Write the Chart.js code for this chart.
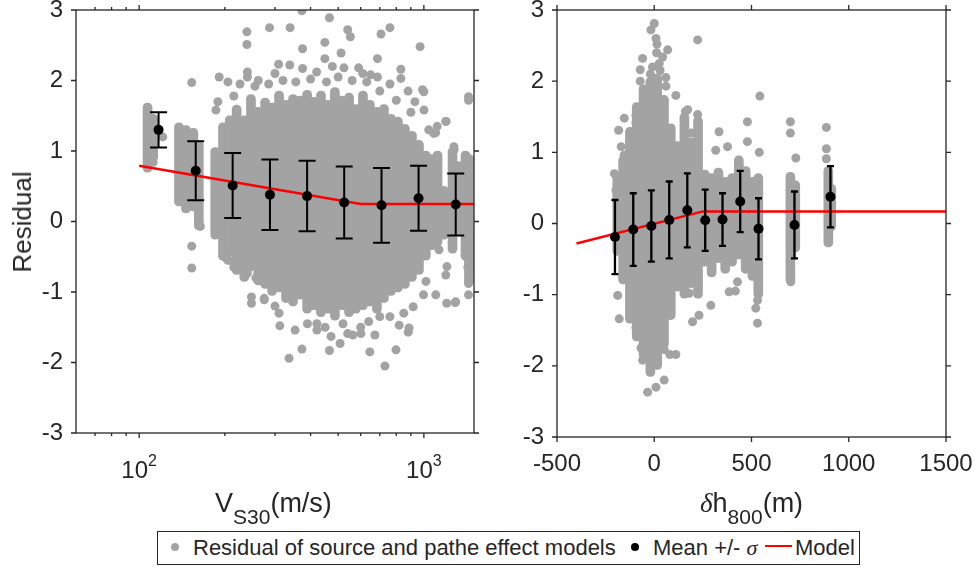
<!DOCTYPE html>
<html>
<head>
<meta charset="utf-8">
<script src="https://cdn.jsdelivr.net/npm/chart.js@4.4.1/dist/chart.umd.min.js"></script>
<style>
  body { margin: 0; width: 975px; height: 567px; position: relative; overflow: hidden; background: #fff;
         font-family: Arial, "Liberation Sans", sans-serif; color: #262626; }
  canvas { position: absolute; top: 0; }
  #left { left: 0; }
  #right { left: 487px; }
  .title { position: absolute; white-space: nowrap; font-size: 27px; line-height: 27px; }
  .title .sub { font-size: 21px; position: relative; top: 12px; }
  .greek { font-family: "Liberation Serif", "Times New Roman", serif; font-style: italic; }
  #ylab { left: 21.7px; top: 221.7px; font-size: 26px; line-height: 26px; transform: translate(-50%, -50%) rotate(-90deg); }
  #legend { position: absolute; left: 157px; top: 531px; width: 701px; height: 32px; border: 1px solid #262626; background: #fff; }
  .lt { position: absolute; top: 537px; font-size: 22px; line-height: 22px; white-space: nowrap; }
  .dot { position: absolute; width: 8px; height: 8px; border-radius: 50%; top: 543px; }
</style>
</head>
<body>
<canvas id="left" width="487" height="567"></canvas>
<canvas id="right" width="488" height="567"></canvas>
<div class="title" id="ylab">Residual</div>
<div class="title" style="left:215px;top:490px">V<span class="sub">S30</span>(m/s)</div>
<div class="title" style="left:700px;top:490px"><span class="greek">δ</span>h<span class="sub">800</span>(m)</div>
<div id="legend"></div>
<span class="dot" style="left:171px;background:#a3a3a3"></span>
<span class="lt" style="left:193px">Residual of source and pathe effect models</span>
<span class="dot" style="left:631px;background:#000"></span>
<span class="lt" style="left:653px">Mean +/- <span class="greek">σ</span></span>
<span style="position:absolute;left:765px;top:545px;width:27px;height:2px;background:#ff0000"></span>
<span class="lt" style="left:795px">Model</span>
<script>
const GRAY = '#a3a3a3';
const INK = '#262626';
const FONT = 'Arial, "Liberation Sans", sans-serif';

// left panel: residual vs VS30 (m/s)
// stations where the residuals pile up into a column: VS30 and [low, high] residual
const vsStations = [107, 112, 138, 146, 155, 162, 185, 190, 197, 208, 220, 234, 247, 262, 277, 293, 310,
  328, 347, 367, 389, 411, 435, 460, 487, 516, 546, 577, 611, 646, 684, 724, 766, 811, 858, 908, 961,
  1016, 1067, 1117, 1175, 1261, 1320, 1400, 1440];
const vsRanges = [[0.70, 1.68], [0.85, 1.52], [0.22, 1.40], [0.12, 1.36], [0.15, 1.32], [-0.12, 1.15],
  [-0.25, 1.05], [-0.15, 0.95], [-0.55, 1.40], [-0.50, 1.50], [-0.75, 1.65], [-0.85, 1.50], [-0.70, 1.80],
  [-0.90, 1.62], [-0.95, 1.75], [-1.05, 1.68], [-1.00, 1.85], [-1.15, 1.72], [-1.20, 1.80], [-1.10, 1.78],
  [-1.30, 1.86], [-1.25, 1.76], [-1.35, 1.85], [-1.30, 1.72], [-1.40, 1.90], [-1.25, 1.78], [-1.35, 1.82],
  [-1.30, 1.66], [-1.25, 1.85], [-1.20, 1.72], [-1.30, 1.62], [-1.15, 1.66], [-1.05, 1.52], [-1.00, 1.48],
  [-0.95, 1.38], [-0.85, 1.28], [-0.75, 1.15], [-0.55, 1.00], [-0.40, 0.95], [-0.35, 1.00], [-0.25, 0.50],
  [-0.45, 1.05], [-0.20, 0.85], [-0.55, 1.00], [-0.90, 0.95]];
// single residuals outside the columns
const vsOutliers = [[373, 2.99], [466, 2.89], [239, 2.69], [239, 2.51], [287, 2.75], [339, 2.75], [540, 2.72],
  [552, 2.62], [707, 2.66], [760, 2.75], [449, 2.54], [375, 2.45], [512, 2.39], [970, 2.48], [449, 2.31],
  [687, 2.31], [309, 2.23], [338, 2.22], [240, 2.12], [240, 2.05], [191, 2.05], [205, 1.98], [375, 2.17],
  [590, 2.18], [830, 2.16], [830, 2.03], [989, 1.87], [1001, 1.58], [1114, 1.35], [1197, 1.42], [1083, 1.25],
  [1435, 1.77], [1435, 1.72], [153, 1.97], [1275, 1.06], [477, 2.20], [524, 2.18], [687, 2.05], [1000, 1.84],
  [1194, 1.42], [1100, 1.26], [1277, 1.02], [186, 1.58], [189, 1.70], [226, 1.95], [262, 2.00], [300, 2.10],
  [420, 2.12], [610, 2.10], [650, 2.08], [760, 1.95], [880, 1.85], [930, 1.70], [121, 1.20], [112, 0.84],
  [215, 1.78], [255, 1.92], [285, 1.95], [320, 2.00], [355, 1.98], [400, 2.02], [455, 1.98], [500, 2.05],
  [560, 2.00], [630, 1.98], [700, 1.85], [800, 1.72], [900, 1.55], [1040, 1.30],
  [205, -0.55], [215, -0.65], [153, -0.35], [153, -0.66], [164, -0.07], [1205, -0.64], [1130, -0.40],
  [1427, -0.50], [1427, -0.65], [248, -1.07], [248, -1.16], [275, -1.11], [310, -1.30], [312, -1.48],
  [336, -1.94], [353, -1.54], [373, -1.81], [421, -1.54], [421, -1.45], [466, -1.83], [472, -1.63],
  [508, -1.73], [540, -1.59], [601, -1.59], [646, -1.85], [673, -1.61], [730, -2.05], [798, -1.82],
  [819, -1.47], [881, -1.57], [917, -1.21], [997, -1.04], [1101, -1.04], [1203, -1.16], [1288, -1.15],
  [1435, -1.04], [1435, -0.88], [700, -1.35], [640, -1.42], [435, -1.16], [563, -1.61], [887, -1.51],
  [1294, -1.14], [1017, -0.85], [1194, -0.76], [1435, -0.29], [1435, -0.48], [240, -0.73], [257, -0.80],
  [275, -1.09], [202, -0.52], [213, -0.57], [300, -1.20], [390, -1.45], [450, -1.50], [520, -1.45],
  [600, -1.50], [760, -1.35], [850, -1.30]];
const vsMeanX = [117, 158, 213, 288, 389, 525, 710, 958, 1294];
const vsMean = [1.30, 0.72, 0.51, 0.38, 0.36, 0.27, 0.23, 0.33, 0.24];
const vsSigma = [0.25, 0.42, 0.46, 0.50, 0.50, 0.51, 0.53, 0.46, 0.44];
const vsModel = [[100, 0.79], [600, 0.25], [1500, 0.25]];
const vsTicks = [70, 80, 90, 100, 200, 300, 400, 500, 600, 700, 800, 900, 1000];

// right panel: residual vs delta h800 (m)
const dhStations = [-190, -160, -125, -90, -55, -20, 15, 50, 85, 120, 155, 190, 225, 260, 295, 330, 365,
  400, 435, 470, 505, 535, 700, 725, 895, 910];
const dhRanges = [[-0.45, 0.70], [-0.85, 0.95], [-1.40, 1.35], [-1.65, 1.70], [-1.90, 1.95], [-2.15, 2.05],
  [-2.05, 2.10], [-1.75, 1.80], [-1.35, 1.40], [-0.95, 1.15], [-1.05, 1.55], [-0.90, 1.20], [-1.05, 1.50],
  [-0.60, 0.75], [-0.75, 0.70], [-0.55, 0.78], [-0.70, 0.65], [-0.60, 0.70], [-0.50, 0.95], [-0.70, 0.80],
  [-0.80, 0.65], [-1.05, 0.70], [-0.85, 0.72], [-0.40, 0.60], [-0.33, 0.80], [-0.10, 0.55]];
const dhOutliers = [[0, 2.81], [-17, 2.72], [9, 2.60], [14, 2.52], [12, 2.40], [69, 2.44], [43, 2.34],
  [26, 2.25], [-9, 2.20], [-60, 2.32], [-72, 2.16], [-72, 2.00], [60, 2.05], [60, 1.93], [111, 1.80],
  [-94, 1.52], [-94, 1.42], [-154, 1.48], [-183, 1.31], [-170, 1.08], [-155, 0.96], [-205, 0.70],
  [-197, 0.47], [-188, -1.01], [-180, -1.34], [-110, -1.27], [-94, -1.46], [-68, -1.75], [-60, -1.92],
  [-10, -2.00], [-34, -2.37], [9, -2.30], [51, -2.20], [51, -1.77], [80, -1.84], [111, -1.84], [180, -0.98],
  [197, -1.38], [230, -1.29], [291, -1.15], [385, -0.96], [428, -0.82], [531, -1.40], [522, -1.19],
  [531, -1.08], [702, -0.82], [160, 1.57], [172, 1.60], [223, 1.53], [190, 1.27], [223, 2.58], [333, 1.29],
  [316, 1.03], [479, 1.43], [479, 1.15], [543, 1.79], [700, 1.43], [700, 1.27], [728, 0.92], [885, 1.35],
  [885, 1.05], [885, 0.91], [377, 1.08], [540, 1.00], [417, -0.95], [-20, 2.10], [30, 2.15]];
const dhMeanX = [-202, -108, -15, 77, 170, 262, 351, 442, 536, 721, 906];
const dhMean = [-0.19, -0.085, -0.035, 0.05, 0.185, 0.045, 0.055, 0.31, -0.075, -0.02, 0.375];
const dhSigma = [0.52, 0.51, 0.50, 0.54, 0.52, 0.43, 0.37, 0.43, 0.43, 0.47, 0.43];
const dhModel = [[-400, -0.28], [250, 0.17], [1500, 0.17]];
const dhTicks = [-500, 0, 500, 1000, 1500];

const residualTicks = [-3, -2, -1, 0, 1, 2, 3];

// box, outward ticks on all four sides, error bars and the 10^n labels
const frame = {
  id: 'frame',
  beforeDatasetDraw(chart, args) {
    const ds = chart.data.datasets[args.index];
    if (!ds.sigma) return;
    const { ctx, scales: { x, y } } = chart;
    ctx.save();
    ctx.strokeStyle = '#000';
    ctx.lineWidth = ds.errWidth;
    ds.data.forEach((p, i) => {
      const px = x.getPixelForValue(p.x);
      const top = y.getPixelForValue(p.y + ds.sigma[i]);
      const bot = y.getPixelForValue(p.y - ds.sigma[i]);
      const c = ds.capHalf;
      ctx.beginPath();
      ctx.moveTo(px, top); ctx.lineTo(px, bot);
      ctx.moveTo(px - c, top); ctx.lineTo(px + c, top);
      ctx.moveTo(px - c, bot); ctx.lineTo(px + c, bot);
      ctx.stroke();
    });
    ctx.restore();
  },
  afterDraw(chart) {
    const { ctx, chartArea: a, scales: { x, y } } = chart;
    ctx.save();
    ctx.strokeStyle = INK;
    ctx.lineWidth = 1.3;
    ctx.strokeRect(a.left, a.top, a.right - a.left, a.bottom - a.top);
    ctx.beginPath();
    x.ticks.forEach(t => {
      const px = x.getPixelForValue(t.value);
      const len = t.major ? 5 : 3;
      ctx.moveTo(px, a.top); ctx.lineTo(px, a.top - len);
      ctx.moveTo(px, a.bottom); ctx.lineTo(px, a.bottom + len);
    });
    y.ticks.forEach(t => {
      const py = y.getPixelForValue(t.value);
      ctx.moveTo(a.left, py); ctx.lineTo(a.left - 5, py);
      ctx.moveTo(a.right, py); ctx.lineTo(a.right + 5, py);
    });
    ctx.stroke();
    if (x.type === 'logarithmic') {
      ctx.fillStyle = INK;
      ctx.textAlign = 'left';
      ctx.textBaseline = 'alphabetic';
      x.ticks.filter(t => t.major).forEach(t => {
        const px = x.getPixelForValue(t.value);
        const exp = String(Math.round(Math.log10(t.value)));
        ctx.font = '24px ' + FONT;
        const w1 = ctx.measureText('10').width;
        ctx.font = '16px ' + FONT;
        const w2 = ctx.measureText(exp).width;
        const x0 = px - (w1 + w2) / 2;
        ctx.font = '24px ' + FONT;
        ctx.fillText('10', x0, a.bottom + 45);
        ctx.font = '16px ' + FONT;
        ctx.fillText(exp, x0 + w1, a.bottom + 33);
      });
    }
    ctx.restore();
  }
};

const pts = list => list.map(([x, y]) => ({ x, y }));

function panel(canvas, o) {
  return new Chart(canvas, {
    type: 'scatter',
    data: {
      datasets: [
        { type: 'scatter', label: 'Mean +/- σ', data: o.meanX.map((x, i) => ({ x, y: o.mean[i] })),
          sigma: o.sigma, capHalf: o.capHalf, errWidth: o.errWidth,
          pointRadius: 5, backgroundColor: '#000', borderWidth: 0, order: 0 },
        { type: 'line', label: 'Model', data: pts(o.model), borderColor: '#ff0000', borderWidth: 2.5,
          pointRadius: 0, fill: false, tension: 0, order: 1 },
        { type: 'scatter', label: 'Residual', data: pts(o.outliers), pointRadius: 4.5,
          backgroundColor: GRAY, borderWidth: 0, order: 2 },
        { type: 'bar', label: 'Residual columns', data: o.stations.map((x, i) => ({ x, y: o.ranges[i] })),
          backgroundColor: GRAY, barThickness: 9, borderRadius: 4.5, borderSkipped: false,
          grouped: false, order: 3 }
      ]
    },
    options: {
      responsive: false,
      animation: false,
      events: [],
      layout: { padding: { top: 10, right: o.padRight, left: 0, bottom: 0 } },
      plugins: { legend: { display: false }, tooltip: { enabled: false } },
      scales: {
        x: {
          type: o.xType, min: o.xMin, max: o.xMax, offset: false,
          grid: { display: false, drawTicks: false }, border: { display: false },
          afterBuildTicks: s => { s.ticks = o.xTicks.map(v => ({ value: v, major: o.isMajor(v) })); },
          afterFit: s => { s.height = o.xHeight; s.paddingLeft = 0; s.paddingRight = 0; },
          ticks: { display: o.xLabels, padding: 13, autoSkip: false, maxRotation: 0,
                   font: { size: 24, family: FONT }, color: INK, callback: v => String(v) }
        },
        y: {
          min: -3, max: 3,
          grid: { display: false, drawTicks: false }, border: { display: false },
          afterBuildTicks: s => { s.ticks = residualTicks.map(v => ({ value: v, major: true })); },
          afterFit: s => { s.width = o.yWidth; s.paddingTop = 0; s.paddingBottom = 0; },
          ticks: { padding: 13, font: { size: 24, family: FONT }, color: INK, callback: v => String(v) }
        }
      }
    },
    plugins: [frame]
  });
}

panel(document.getElementById('left'), {
  stations: vsStations, ranges: vsRanges, outliers: vsOutliers,
  meanX: vsMeanX, mean: vsMean, sigma: vsSigma, model: vsModel,
  capHalf: 8.5, errWidth: 2,
  xType: 'logarithmic', xMin: 60, xMax: 1500, xTicks: vsTicks,
  isMajor: v => v === 100 || v === 1000, xLabels: false,
  xHeight: 134, yWidth: 76, padRight: 13
});

panel(document.getElementById('right'), {
  stations: dhStations, ranges: dhRanges, outliers: dhOutliers,
  meanX: dhMeanX, mean: dhMean, sigma: dhSigma, model: dhModel,
  capHalf: 3.5, errWidth: 2.3,
  xType: 'linear', xMin: -500, xMax: 1500, xTicks: dhTicks,
  isMajor: () => true, xLabels: true,
  xHeight: 130, yWidth: 70, padRight: 29
});
</script>
</body>
</html>
